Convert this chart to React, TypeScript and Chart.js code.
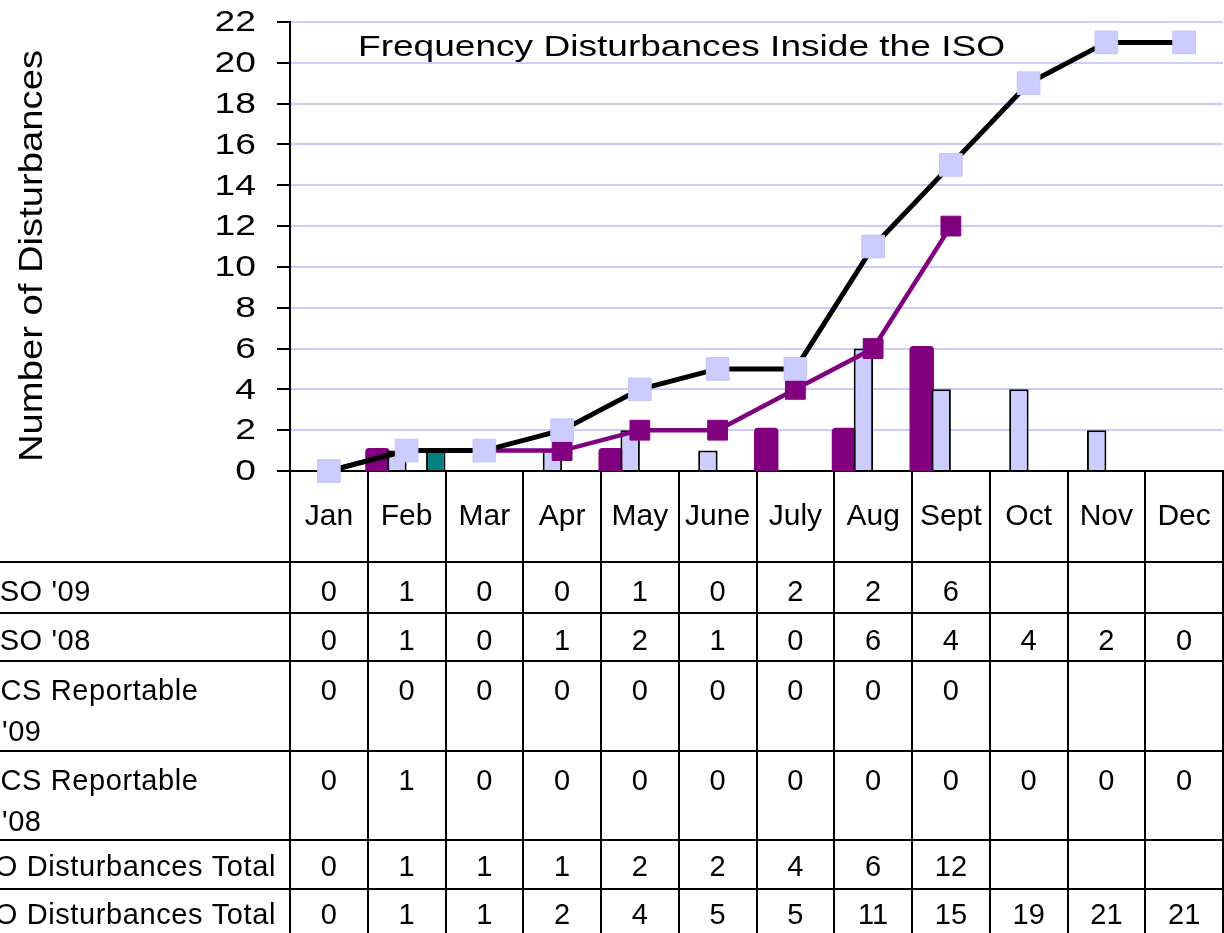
import React, { useEffect, useRef } from "react";
import { Chart, registerables } from "chart.js";

Chart.register(...registerables);

// ---- data ----
const months = ["Jan", "Feb", "Mar", "Apr", "May", "June", "July", "Aug", "Sept", "Oct", "Nov", "Dec"];
const iso09 = [0, 1, 0, 0, 1, 0, 2, 2, 6, null, null, null];
const iso08 = [0, 1, 0, 1, 2, 1, 0, 6, 4, 4, 2, 0];
const dcs09 = [0, 0, 0, 0, 0, 0, 0, 0, 0, null, null, null];
const dcs08 = [0, 1, 0, 0, 0, 0, 0, 0, 0, 0, 0, 0];
const iso09Total = [0, 1, 1, 1, 2, 2, 4, 6, 12, null, null, null];
const iso08Total = [0, 1, 1, 2, 4, 5, 5, 11, 15, 19, 21, 21];
const yMin = 0;
const yMax = 22;
const yStep = 2;

const seriesNames = [
  "ISO '09",
  "ISO '08",
  "DCS Reportable '09",
  "DCS Reportable '08",
  "2009 ISO Disturbances Total",
  "2008 ISO Disturbances Total",
];
const chartTitle = "Frequency Disturbances Inside the ISO";
const yAxisTitle = "Number of Disturbances";

// ---- layout (screen coordinates) ----
const OFF_X = 200; // canvas starts this far left of the window
const CANVAS_W = OFF_X + 1240;
const CANVAS_H = 950;
const PLOT_LEFT = 290;
const PLOT_TOP = 22;
const PLOT_BOTTOM = 471;
const PLOT_RIGHT = 1230;
const ROW_EDGES = [562, 613, 661, 751, 840, 889, 938];
const ROW_TEXT_OFFSET = [31, 29, 31, 31, 28, 27];
const FONT = '"Liberation Sans", Arial, sans-serif';
const TICK_STRETCH = 1.24;

const tableRows = [iso09, iso08, dcs09, dcs08, iso09Total, iso08Total];

// draws text horizontally stretched
function drawStretch(
  ctx: CanvasRenderingContext2D,
  text: string,
  x: number,
  y: number,
  stretch: number,
  align: "left" | "right" | "center"
) {
  (ctx as any).letterSpacing = "0px";
  const w = ctx.measureText(text).width * stretch;
  const x0 = align === "left" ? x : align === "right" ? x - w : x - w / 2;
  ctx.save();
  ctx.textAlign = "left";
  ctx.translate(x0, y);
  ctx.scale(stretch, 1);
  ctx.fillText(text, 0, 0);
  ctx.restore();
}

const tablePlugin = {
  id: "tableAndText",
  beforeDraw(chart: any) {
    chart.ctx.letterSpacing = "0px";
  },
  beforeDatasetDraw(chart: any, args: any) {
    if (args.index === 3) return false;
    return true;
  },
  afterDatasetDraw(chart: any, args: any) {
    if (args.index === 2) {
      const meta = chart.getDatasetMeta(3);
      if (meta && meta.visible !== false) meta.controller.draw();
    }
  },
  afterDraw(chart: any) {
    const ctx: CanvasRenderingContext2D = chart.ctx;
    const xs = chart.scales.x;
    const ys = chart.scales.y;
    const { left, right } = chart.chartArea;
    const colW = (right - left) / months.length;
    const sx = (x: number) => x + OFF_X;

    ctx.save();
    // table grid
    ctx.strokeStyle = "#000";
    ctx.lineWidth = 2;
    ctx.beginPath();
    for (let i = 0; i <= months.length; i++) {
      const x = Math.round(left + i * colW);
      ctx.moveTo(x, PLOT_BOTTOM);
      ctx.lineTo(x, CANVAS_H);
    }
    for (const y of ROW_EDGES) {
      ctx.moveTo(0, y);
      ctx.lineTo(right, y);
    }
    ctx.stroke();

    // values
    ctx.fillStyle = "#000";
    ctx.font = `29px ${FONT}`;
    (ctx as any).letterSpacing = "0px";
    ctx.textAlign = "center";
    ctx.textBaseline = "middle";
    tableRows.forEach((row, r) => {
      row.forEach((v, i) => {
        if (v === null || v === undefined) return;
        ctx.fillText(String(v), xs.getPixelForValue(i), ROW_EDGES[r] + ROW_TEXT_OFFSET[r]);
      });
    });

    // row labels (left part is outside the window)
    (ctx as any).letterSpacing = "0.6px";
    ctx.textAlign = "left";
    const lblY = (r: number, line: number) => ROW_EDGES[r] + ROW_TEXT_OFFSET[r] + line * 41;
    ctx.fillText(seriesNames[0], sx(-9), lblY(0, 0));
    ctx.fillText(seriesNames[1], sx(-9), lblY(1, 0));
    ctx.fillText("DCS Reportable", sx(-21), lblY(2, 0));
    ctx.fillText("'09", sx(2), lblY(2, 1));
    ctx.fillText("DCS Reportable", sx(-21), lblY(3, 0));
    ctx.fillText("'08", sx(2), lblY(3, 1));
    ctx.textAlign = "right";
    ctx.fillText(seriesNames[4], sx(276), lblY(4, 0));
    ctx.fillText(seriesNames[5], sx(276), lblY(5, 0));

    // y tick labels, from the y scale's own ticks
    ctx.font = `30px ${FONT}`;
    ctx.textBaseline = "middle";
    for (const t of ys.ticks) {
      drawStretch(ctx, String(t.value), sx(256), ys.getPixelForValue(t.value) + 1, TICK_STRETCH, "right");
    }

    // chart title inside plot
    ctx.font = `29px ${FONT}`;
    ctx.textBaseline = "alphabetic";
    (ctx as any).letterSpacing = "0px";
    const tw = ctx.measureText(chartTitle).width;
    drawStretch(ctx, chartTitle, sx(358), 56, 647 / tw, "left");

    // y axis title (rotated)
    ctx.save();
    ctx.font = `33px ${FONT}`;
    const yw = ctx.measureText(yAxisTitle).width;
    ctx.translate(sx(42), 462);
    ctx.rotate(-Math.PI / 2);
    drawStretch(ctx, yAxisTitle, 0, 0, 412 / yw, "left");
    ctx.restore();

    ctx.restore();
  },
};

export default function App() {
  const ref = useRef<HTMLCanvasElement | null>(null);

  useEffect(() => {
    if (!ref.current) return;
    const chart = new Chart(ref.current, {
      type: "bar",
      data: {
        labels: months,
        datasets: [
          {
            type: "line",
            label: seriesNames[5],
            data: iso08Total,
            borderColor: "#000000",
            borderWidth: 5,
            tension: 0,
            clip: false,
            pointStyle: "rect",
            pointRadius: 16,
            pointBackgroundColor: "#CCCCFF",
            pointBorderColor: "#C4C4F8",
            pointBorderWidth: 1,
          } as any,
          {
            type: "line",
            label: seriesNames[4],
            data: iso09Total,
            borderColor: "#800080",
            borderWidth: 4.5,
            tension: 0,
            clip: false,
            spanGaps: false,
            pointStyle: "rect",
            pointRadius: 14,
            pointBackgroundColor: "#800080",
            pointBorderColor: "#800080",
            pointBorderWidth: 1,
          } as any,
          {
            type: "bar",
            label: seriesNames[0],
            data: iso09,
            backgroundColor: "#800080",
            borderColor: "#800080",
            borderWidth: 0,
            borderRadius: 4,
            inflateAmount: (c: any) => (c.raw ? 2.5 : 0),
          } as any,
          {
            type: "bar",
            label: seriesNames[1],
            data: iso08,
            backgroundColor: "#CCCCFF",
            borderColor: "#000000",
            borderWidth: 2,
            inflateAmount: 0,
          } as any,
          {
            type: "bar",
            label: seriesNames[2],
            data: dcs09,
            backgroundColor: "#339966",
            borderColor: "#000000",
            borderWidth: 2,
            inflateAmount: 0,
          } as any,
          {
            type: "bar",
            label: seriesNames[3],
            data: dcs08,
            backgroundColor: "#008080",
            borderColor: "#000000",
            borderWidth: 2,
            inflateAmount: 0,
          } as any,
        ],
      },
      options: {
        responsive: false,
        animation: false,
        devicePixelRatio: 1,
        layout: { padding: { top: PLOT_TOP, right: CANVAS_W - OFF_X - PLOT_RIGHT, left: 0, bottom: 0 } },
        plugins: {
          legend: { display: false },
          tooltip: { enabled: false },
          title: { display: false },
        },
        datasets: {
          bar: { barPercentage: 1, categoryPercentage: 1 },
        },
        scales: {
          x: {
            offset: true,
            grid: { display: true, drawOnChartArea: false, drawTicks: false },
            border: { display: true, color: "#000", width: 2 },
            ticks: {
              color: "#000",
              font: { family: FONT, size: 30 },
              padding: 28,
              maxRotation: 0,
              autoSkip: false,
            },
            afterFit: (scale: any) => {
              scale.height = CANVAS_H - PLOT_BOTTOM;
              scale.paddingLeft = 0;
              scale.paddingRight = 0;
              scale.paddingTop = 0;
              scale.paddingBottom = 0;
            },
          },
          y: {
            min: yMin,
            max: yMax,
            ticks: {
              stepSize: yStep,
              display: false,
            },
            grid: {
              color: "#CCCCFF",
              lineWidth: 2,
              tickLength: 13,
              tickColor: "#000",
              tickWidth: 2,
            },
            border: { display: true, color: "#000", width: 2 },
            afterFit: (scale: any) => {
              scale.width = OFF_X + PLOT_LEFT;
              scale.paddingTop = 0;
              scale.paddingBottom = 0;
              scale.paddingLeft = 0;
              scale.paddingRight = 0;
            },
          },
        },
      },
      plugins: [tablePlugin as any],
    });
    return () => chart.destroy();
  }, []);

  return (
    <div style={{ position: "fixed", left: -OFF_X, top: 0, width: CANVAS_W, height: CANVAS_H, background: "#fff" }}>
      <canvas ref={ref} width={CANVAS_W} height={CANVAS_H} style={{ display: "block" }} />
    </div>
  );
}
